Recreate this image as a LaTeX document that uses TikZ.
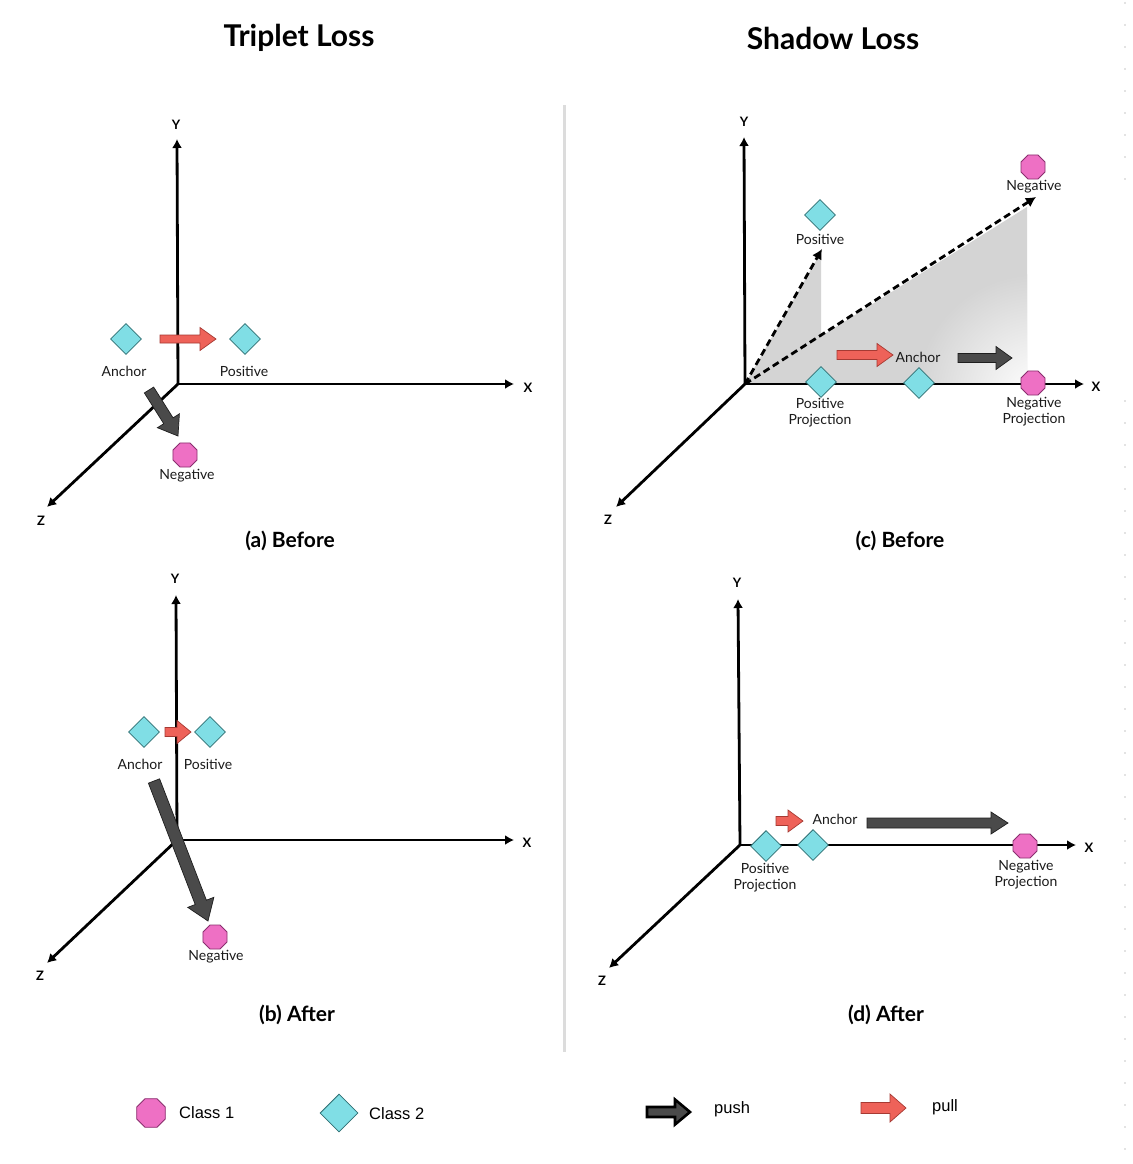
\documentclass[tikz,border=0pt]{standalone}
\usepackage{fontspec}
\setmainfont{Lato}
\newfontfamily\legendfont{Liberation Sans}
\usetikzlibrary{shapes.geometric,arrows.meta,calc}

\definecolor{diamondfill}{HTML}{80DEE5}
\definecolor{diamondedge}{HTML}{2F6F73}
\definecolor{octfill}{HTML}{EE70C4}
\definecolor{octedge}{HTML}{8A2F6E}
\definecolor{pullfill}{HTML}{EE6259}
\definecolor{pulledge}{HTML}{A63A33}
\definecolor{pushfill}{HTML}{4A4A4A}
\definecolor{pushedge}{HTML}{1E1E1E}
\definecolor{shadegray}{HTML}{D4D4D4}
\definecolor{dividergray}{HTML}{DCDCDC}
\definecolor{txt}{HTML}{1A1A1A}

\newcommand{\lblfont}{\fontsize{14}{16}\selectfont}
\newcommand{\ttlfont}{\fontsize{30}{34}\selectfont\bfseries}
\newcommand{\capfont}{\fontsize{21}{24}\selectfont\bfseries}
\newcommand{\axfont}{\fontsize{13}{15}\selectfont\bfseries}
\newcommand{\legfont}{\legendfont\fontsize{16.5}{19}\selectfont}

% block arrow: #1 style, #2 start, #3 tip, #4 body half width, #5 head half width, #6 head length
\newcommand{\blockarrow}[6]{%
  \coordinate (bahead) at ($(#3)!#6!(#2)$);
  \filldraw[#1] ($(#2)!#4!90:(#3)$) -- ($(bahead)!#4!-90:(#2)$) -- ($(bahead)!#5!-90:(#2)$) -- (#3)
     -- ($(bahead)!#5!90:(#2)$) -- ($(bahead)!#4!90:(#2)$) -- ($(#2)!#4!-90:(#3)$) -- cycle;
}

\begin{document}
\begin{tikzpicture}[x=1pt,y=-1pt,
  axis/.style={line width=2.8pt, -{Latex[length=9pt,width=10pt]}},
  dasharrow/.style={line width=2.8pt, dash pattern=on 7pt off 4pt, -{Latex[length=10pt,width=11pt]}},
  clstwo/.style={diamond, draw=diamondedge, fill=diamondfill, minimum width=31pt, minimum height=31pt, inner sep=0pt, line width=0.8pt},
  clsone/.style={regular polygon, regular polygon sides=8, draw=octedge, fill=octfill, minimum size=26pt, inner sep=0pt, line width=0.8pt},
  pullstyle/.style={fill=pullfill, draw=pulledge, line width=0.7pt, line join=miter},
  pushstyle/.style={fill=pushfill, draw=pushedge, line width=0.7pt, line join=miter},
  lbl/.style={font=\lblfont, text=txt, align=center, inner sep=0pt},
  axlbl/.style={font=\axfont, text=black, inner sep=0pt},
  ttl/.style={font=\ttlfont, text=black, inner sep=0pt},
  capt/.style={font=\capfont, text=black, inner sep=0pt},
  leg/.style={font=\legfont, text=black, inner sep=0pt, anchor=west}
]
\useasboundingbox (0,0) rectangle (1132,1164);
\fill[white] (0,0) rectangle (1132,1164);

% faint dotted border at right
\draw[gray!22, line width=1.6pt, dash pattern=on 2pt off 20pt] (1125,2) -- (1125,180);
\draw[gray!22, line width=1.6pt, dash pattern=on 2pt off 20pt] (1125,400) -- (1125,1150);

% titles
\node[ttl] (t1) at (299,38) {Triplet Loss};
\node[ttl] (t2) at (833,38) {Shadow Loss};

% divider
\coordinate (dv1) at (564,105);
\coordinate (dv2) at (564,1052);
\draw[dividergray, line width=3pt] (dv1) -- (dv2);

%================ (a) =================
\coordinate (Oa) at (178,384);
\coordinate (Ya) at (177,139);
\coordinate (Xa) at (514,384);
\coordinate (Za) at (47,507);
\draw[axis] (Oa) -- (Ya);
\draw[axis] (Oa) -- (Xa);
\draw[axis] (Oa) -- (Za);
\node[axlbl] (Yal) at (176,125) {Y};
\node[axlbl] (Xal) at (528,388) {X};
\node[axlbl] (Zal) at (41,521) {Z};
\coordinate (apull1) at (160,339);
\coordinate (apull2) at (216,339);
\blockarrow{pullstyle}{apull1}{apull2}{4pt}{11.5pt}{16pt}
\coordinate (apush1) at (149,390);
\coordinate (apush2) at (178,436);
\blockarrow{pushstyle}{apush1}{apush2}{5.5pt}{13pt}{18pt}
\node[clstwo] (aanc) at (126,339) {};
\node[lbl] (aancl) at (124,371) {Anchor};
\node[clstwo] (apos) at (245,339) {};
\node[lbl] (aposl) at (244,371) {Positive};
\node[clsone] (aneg) at (185,455) {};
\node[lbl] (anegl) at (187,476) {Negative};
\node[capt] (capa) at (290,541) {(a) Before};

%================ (b) =================
\coordinate (Ob) at (177,840);
\coordinate (Yb) at (176,595);
\coordinate (Xb) at (514,840);
\coordinate (Zb) at (47,963);
\draw[axis] (Ob) -- (Yb);
\draw[axis] (Ob) -- (Xb);
\draw[axis] (Ob) -- (Zb);
\node[axlbl] (Ybl) at (175,579) {Y};
\node[axlbl] (Xbl) at (527,843) {X};
\node[axlbl] (Zbl) at (40,976) {Z};
\coordinate (bpull1) at (165,732);
\coordinate (bpull2) at (191,732);
\blockarrow{pullstyle}{bpull1}{bpull2}{4.5pt}{11.5pt}{14pt}
\coordinate (bpush1) at (154,781);
\coordinate (bpush2) at (208,921);
\blockarrow{pushstyle}{bpush1}{bpush2}{6pt}{14pt}{20pt}
\node[clstwo] (banc) at (144,732) {};
\node[lbl] (bancl) at (140,764) {Anchor};
\node[clstwo] (bpos) at (210,732) {};
\node[lbl] (bposl) at (208,764) {Positive};
\node[clsone] (bneg) at (215,937) {};
\node[lbl] (bnegl) at (216,957) {Negative};
\node[capt] (capb) at (297,1015) {(b) After};

%================ (c) =================
\coordinate (Oc) at (745,384);
\coordinate (Yc) at (744,137);
\coordinate (Xc) at (1084,384);
\coordinate (Zc) at (616,507);
\coordinate (cpt) at (821,252);
\coordinate (cpb) at (821,384);
\coordinate (cnt) at (1027,207);
\coordinate (cnb) at (1027,384);
% shadows
\fill[shadegray] (Oc) -- (cpt) -- (cpb) -- cycle;
\begin{scope}
  \clip (Oc) -- (cnt) -- (cnb) -- cycle;
  \fill[shadegray] (740,200) rectangle (1030,390);
  \shade[inner color=white, outer color=shadegray] (1036,394) circle (120pt);
\end{scope}
\draw[axis] (Oc) -- (Yc);
\draw[axis] (Oc) -- (Xc);
\draw[axis] (Oc) -- (Zc);
\node[axlbl] (Ycl) at (744,122) {Y};
\node[axlbl] (Xcl) at (1096,387) {X};
\node[axlbl] (Zcl) at (608,520) {Z};
\coordinate (cdp) at (822,249);
\coordinate (cdn) at (1036,197);
\draw[dasharrow] (Oc) -- (cdp);
\draw[dasharrow] (Oc) -- (cdn);
\coordinate (cpull1) at (837,355);
\coordinate (cpull2) at (893,355);
\blockarrow{pullstyle}{cpull1}{cpull2}{4.5pt}{11.5pt}{16pt}
\coordinate (cpush1) at (958,358);
\coordinate (cpush2) at (1012,358);
\blockarrow{pushstyle}{cpush1}{cpush2}{4.5pt}{11.5pt}{16pt}
\node[lbl] (cancl) at (918,357) {Anchor};
\node[clstwo] (cpos) at (820,215) {};
\node[lbl] (cposl) at (820,239) {Positive};
\node[clsone] (cneg) at (1033,167) {};
\node[lbl] (cnegl) at (1034,187) {Negative};
\node[clstwo] (cposp) at (821,382) {};
\node[lbl] (cpospl) at (820,413) {Positive\\Projection};
\node[clstwo] (canc) at (919,383) {};
\node[clsone] (cnegp) at (1033,383) {};
\node[lbl] (cnegpl) at (1034,412) {Negative\\Projection};
\node[capt] (capc) at (900,541) {(c) Before};

%================ (d) =================
\coordinate (Od) at (740,845);
\coordinate (Yd) at (738,599);
\coordinate (Xd) at (1076,845);
\coordinate (Zd) at (609,968);
\draw[axis] (Od) -- (Yd);
\draw[axis] (Od) -- (Xd);
\draw[axis] (Od) -- (Zd);
\node[axlbl] (Ydl) at (737,583) {Y};
\node[axlbl] (Xdl) at (1089,848) {X};
\node[axlbl] (Zdl) at (602,981) {Z};
\coordinate (dpull1) at (776,821);
\coordinate (dpull2) at (803,821);
\blockarrow{pullstyle}{dpull1}{dpull2}{4.5pt}{11pt}{15pt}
\coordinate (dpush1) at (867,823);
\coordinate (dpush2) at (1008,823);
\blockarrow{pushstyle}{dpush1}{dpush2}{5pt}{11pt}{17pt}
\node[lbl] (dancl) at (835,819) {Anchor};
\node[clstwo] (dposp) at (766,846) {};
\node[lbl] (dpospl) at (765,878) {Positive\\Projection};
\node[clstwo] (danc) at (813,845) {};
\node[clsone] (dnegp) at (1025,846) {};
\node[lbl] (dnegpl) at (1026,875) {Negative\\Projection};
\node[capt] (capd) at (886,1015) {(d) After};

%================ legend =================
\node[clsone, minimum size=31pt] (lg1) at (151,1113) {};
\node[leg] (lg1t) at (179,1113) {Class 1};
\node[clstwo, minimum width=38pt, minimum height=38pt] (lg2) at (339,1113) {};
\node[leg] (lg2t) at (369,1114) {Class 2};
\coordinate (lpush1) at (647,1112);
\coordinate (lpush2) at (690,1112);
\blockarrow{pushstyle, draw=black, line width=2.6pt}{lpush1}{lpush2}{5pt}{12.5pt}{15pt}
\node[leg] (lpusht) at (714,1109) {push};
\coordinate (lpull1) at (861,1108);
\coordinate (lpull2) at (906,1108);
\blockarrow{pullstyle}{lpull1}{lpull2}{5.5pt}{14pt}{16pt}
\node[leg] (lpullt) at (932,1107) {pull};
\end{tikzpicture}
\end{document}
